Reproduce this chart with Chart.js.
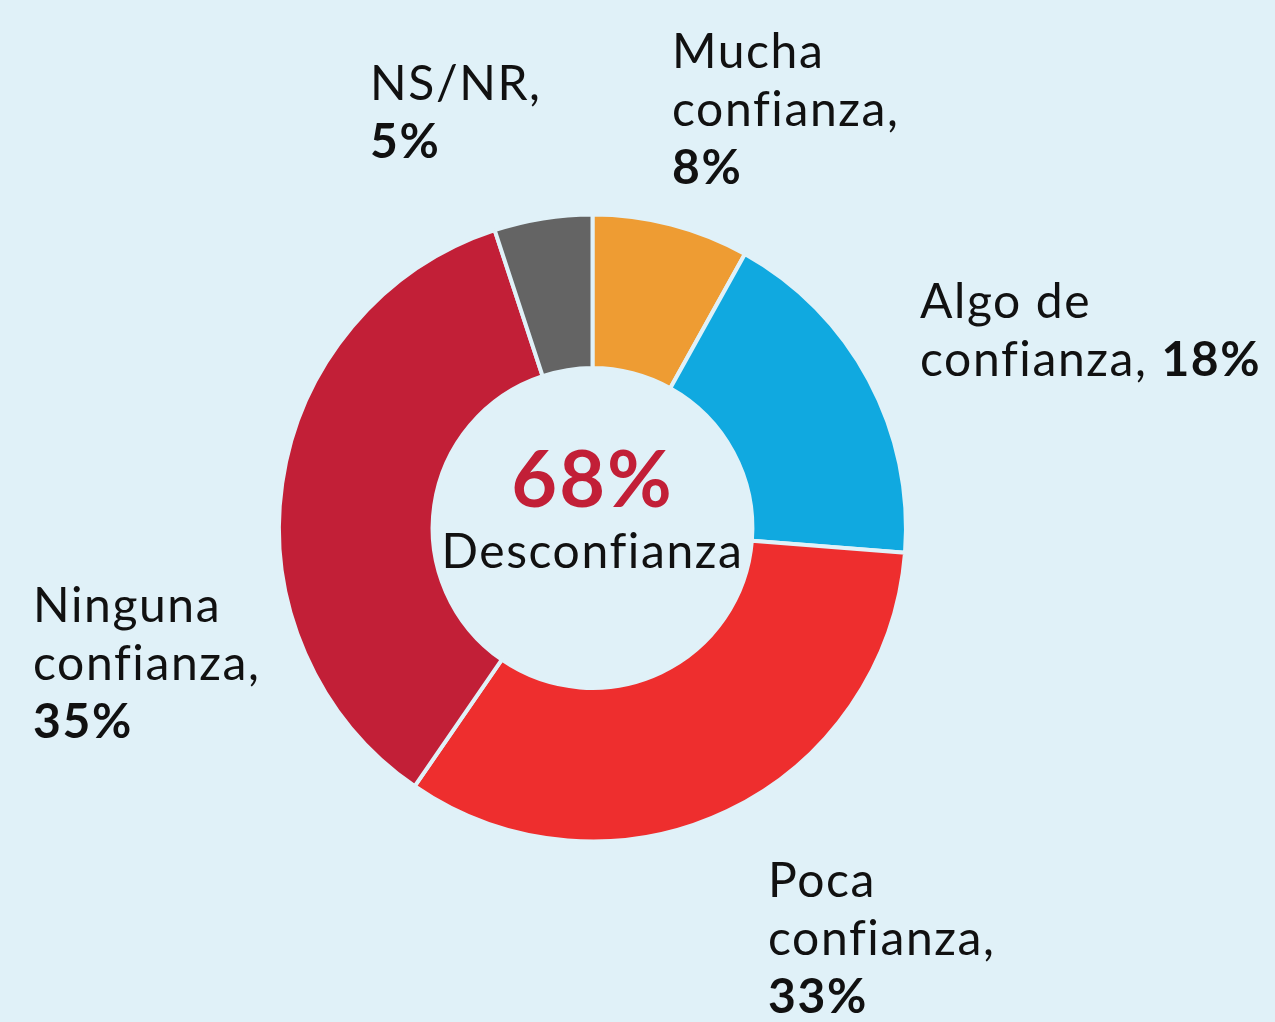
<!DOCTYPE html>
<html>
<head>
<meta charset="utf-8">
<script src="https://cdn.jsdelivr.net/npm/chart.js@4/dist/chart.umd.min.js"></script>
<style>
  html, body { margin: 0; padding: 0; background: #e0f1f8; }
  #wrap { width: 1275px; height: 1022px; position: relative; }
</style>
</head>
<body>
<div id="wrap"><canvas id="grafico"></canvas></div>
<script>
// Nivel de confianza (porcentajes)
const categorias = ['Mucha confianza', 'Algo de confianza', 'Poca confianza', 'Ninguna confianza', 'NS/NR'];
const valores = [8, 18, 33, 35, 5];
const colores = ['#ee9c33', '#10a9e0', '#ee2e2e', '#c21f37', '#646464'];
const totalDesconfianza = valores[2] + valores[3];

const FONDO = '#e0f1f8';
const FUENTE = 'Lato, "Noto Sans", sans-serif';

// etiquetas externas: líneas de texto; null = porcentaje en negrita
const etiquetas = [
    { x: 672, y: 68, lineas: [['Mucha'], ['confianza,'], [null]] },
    { x: 920, y: 318, lineas: [['Algo de'], ['confianza, ', null]] },
    { x: 768, y: 897, lineas: [['Poca'], ['confianza,'], [null]] },
    { x: 33, y: 622, lineas: [['Ninguna'], ['confianza,'], [null]] },
    { x: 370, y: 100, lineas: [['NS/NR,'], [null]] }
];
const interlineado = 58;

const textoPlugin = {
    id: 'textoPlugin',
    afterDraw(chart) {
        const ctx = chart.ctx;
        const arc = chart.getDatasetMeta(0).data[0];
        const cx = arc.x, cy = arc.y;
        ctx.save();
        ctx.textBaseline = 'alphabetic';

        // texto central
        ctx.textAlign = 'center';
        ctx.letterSpacing = '2px';
        ctx.fillStyle = '#c21f37';
        ctx.font = 'bold 79px ' + FUENTE;
        ctx.fillText(totalDesconfianza + '%', cx, cy - 21);
        ctx.letterSpacing = '1.6px';
        ctx.fillStyle = '#111';
        ctx.font = '48px ' + FUENTE;
        ctx.fillText('Desconfianza', cx, cy + 40);

        // etiquetas de cada categoría
        ctx.textAlign = 'left';
        etiquetas.forEach((et, i) => {
            et.lineas.forEach((linea, j) => {
                let x = et.x;
                const y = et.y + j * interlineado;
                linea.forEach(seg => {
                    const negrita = seg === null;
                    const txt = negrita ? valores[i] + '%' : seg;
                    ctx.font = (negrita ? 'bold ' : '') + '48px ' + FUENTE;
                    ctx.fillStyle = '#111';
                    ctx.fillText(txt, x, y);
                    x += ctx.measureText(txt).width;
                });
            });
        });
        ctx.restore();
    }
};

new Chart(document.getElementById('grafico'), {
    type: 'doughnut',
    data: {
        labels: categorias,
        datasets: [{
            data: valores,
            backgroundColor: colores,
            borderColor: FONDO,
            borderWidth: 4,
            hoverOffset: 0
        }]
    },
    options: {
        responsive: true,
        maintainAspectRatio: false,
        animation: false,
        cutout: '51%',
        layout: { padding: { left: 277, right: 367, top: 212, bottom: 178 } },
        plugins: {
            legend: { display: false },
            tooltip: { enabled: false }
        }
    },
    plugins: [textoPlugin]
});
</script>
</body>
</html>
